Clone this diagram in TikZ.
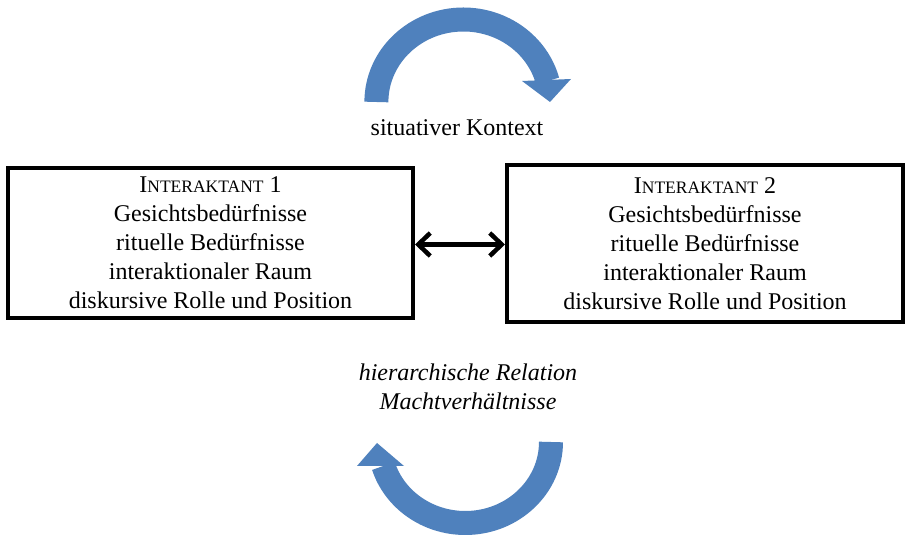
\documentclass[tikz,border=0pt]{standalone}
\usepackage{fontspec}
\setmainfont{Liberation Serif}
\usetikzlibrary{arrows.meta}
\definecolor{arcblue}{RGB}{79,129,189}
\newcommand{\smallcapsname}[1]{I{\fontsize{17.5}{29}\selectfont NTERAKTANT} #1}
\begin{document}
\begin{tikzpicture}[x=1pt,y=1pt,
  box/.style={draw=black,line width=4pt,inner sep=0pt,align=center,
    font=\fontsize{24}{29}\selectfont},
  lbl/.style={inner sep=0pt,align=center,font=\fontsize{24}{29}\selectfont},
  bluearc/.style={draw=arcblue,line width=24pt},
  bluehead/.style={fill=arcblue},
  link/.style={line width=4.5pt,{Straight Barb[length=12pt,width=23pt]}-{Straight Barb[length=12pt,width=23pt]}}]
\useasboundingbox (0,0) rectangle (906,538);
\fill[white] (0,0) rectangle (906,538);
\node[box,minimum width=405pt,minimum height=150pt] (i1) at (210.5,295)
  {\smallcapsname{1}\\Gesichtsbedürfnisse\\rituelle Bedürfnisse\\interaktionaler Raum\\diskursive Rolle und Position};
\node[box,minimum width=396pt,minimum height=157pt] (i2) at (705,294.5)
  {\smallcapsname{2}\\Gesichtsbedürfnisse\\rituelle Bedürfnisse\\interaktionaler Raum\\diskursive Rolle und Position};
\draw[link] (i1.east |- 0,293.5) -- (i2.west |- 0,293.5);
\node[lbl] (ctx) at (457,410) {situativer Kontext};
\node[lbl,font=\fontsize{24}{29}\selectfont\itshape] (rel) at (468,151) {hierarchische Relation\\Machtverhältnisse};
% top arrow
\coordinate (ta) at (376.4,436);
\draw[bluearc] (ta) arc[start angle=180,end angle=14.7,x radius=87,y radius=82.5];
\coordinate (th1) at (522,457);
\coordinate (th2) at (571,459);
\coordinate (tt) at (550,436);
\fill[bluehead] (th1) -- (th2) -- (tt) -- cycle;
% bottom arrow
\coordinate (ba) at (551,96);
\draw[bluearc] (ba) arc[start angle=0,end angle=-162.8,x radius=85.7,y radius=81];
\coordinate (bh1) at (357,72);
\coordinate (bh2) at (404,72);
\coordinate (bt) at (377,95);
\fill[bluehead] (bh1) -- (bh2) -- (bt) -- cycle;
\end{tikzpicture}
\end{document}
